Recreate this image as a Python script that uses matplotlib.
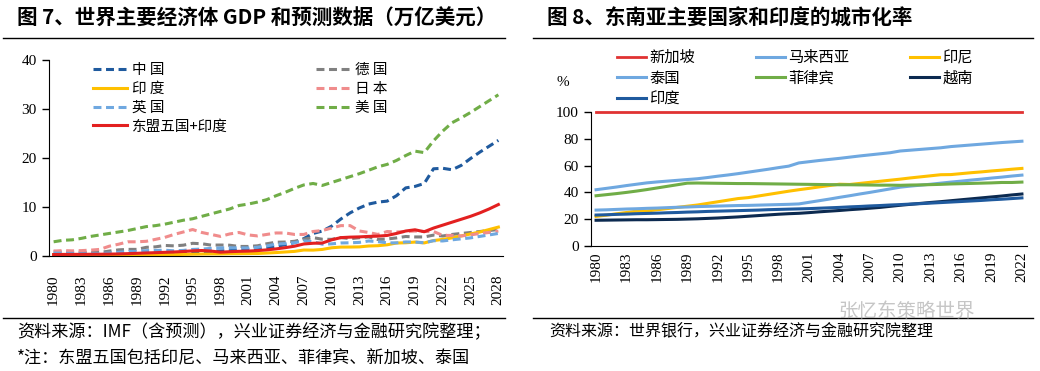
import matplotlib
matplotlib.use("Agg")
import matplotlib.pyplot as plt
import numpy as np

plt.rcParams['font.family'] = ['Noto Sans CJK SC', 'DejaVu Sans']

# ---- fig 7: GDP (万亿美元), 1980-2028
gdp_years = list(range(1980, 2029))
china = [0.30, 0.29, 0.28, 0.30, 0.31, 0.31, 0.30, 0.33, 0.41, 0.46,
         0.40, 0.41, 0.49, 0.62, 0.56, 0.74, 0.86, 0.96, 1.03, 1.09,
         1.21, 1.34, 1.47, 1.66, 1.96, 2.29, 2.75, 3.55, 4.59, 5.10,
         6.09, 7.55, 8.80, 9.80, 10.6, 11.0, 11.2, 12.3, 13.9, 14.2,
         14.8, 17.8, 17.9, 17.6, 18.5, 19.9, 21.2, 22.4, 23.6]
germany = [0.95, 0.80, 0.78, 0.77, 0.72, 0.73, 1.00, 1.25, 1.35, 1.35,
           1.77, 1.87, 2.15, 2.07, 2.21, 2.59, 2.50, 2.22, 2.24, 2.20,
           1.95, 1.95, 2.08, 2.50, 2.81, 2.85, 3.00, 3.43, 3.75, 3.42,
           3.40, 3.76, 3.54, 3.73, 3.89, 3.36, 3.47, 3.69, 3.98, 3.89,
           3.89, 4.26, 4.08, 4.40, 4.60, 4.80, 5.00, 5.20, 5.40]
india = [0.19, 0.20, 0.20, 0.22, 0.22, 0.23, 0.25, 0.28, 0.30, 0.30,
         0.32, 0.27, 0.29, 0.28, 0.33, 0.37, 0.40, 0.42, 0.42, 0.46,
         0.47, 0.49, 0.51, 0.60, 0.70, 0.82, 0.94, 1.22, 1.20, 1.34,
         1.68, 1.82, 1.83, 1.86, 2.04, 2.10, 2.29, 2.65, 2.70, 2.84,
         2.67, 3.15, 3.39, 3.70, 4.10, 4.50, 4.90, 5.40, 5.90]
japan = [1.00, 1.10, 1.05, 1.10, 1.20, 1.35, 2.00, 2.40, 2.90, 2.90,
         3.00, 3.40, 3.80, 4.40, 4.90, 5.40, 4.80, 4.40, 4.00, 4.50,
         4.80, 4.30, 4.10, 4.40, 4.70, 4.70, 4.40, 4.40, 5.00, 5.20,
         5.70, 6.20, 6.20, 5.10, 4.80, 4.40, 5.00, 4.90, 5.00, 5.10,
         5.00, 5.00, 4.20, 4.20, 4.10, 4.30, 4.60, 4.80, 5.10]
uk = [0.60, 0.56, 0.53, 0.50, 0.47, 0.50, 0.60, 0.75, 0.91, 0.93,
      1.09, 1.14, 1.18, 1.06, 1.14, 1.34, 1.41, 1.56, 1.65, 1.68,
      1.66, 1.64, 1.78, 2.06, 2.42, 2.54, 2.71, 3.09, 2.93, 2.41,
      2.48, 2.66, 2.70, 2.78, 3.06, 2.93, 2.69, 2.68, 2.87, 2.85,
      2.70, 3.12, 3.07, 3.30, 3.50, 3.70, 4.00, 4.30, 4.60]
usa = [2.9, 3.2, 3.3, 3.6, 4.0, 4.3, 4.6, 4.9, 5.2, 5.6,
       6.0, 6.2, 6.5, 6.9, 7.3, 7.6, 8.1, 8.6, 9.1, 9.6,
       10.3, 10.6, 11.0, 11.5, 12.3, 13.0, 13.8, 14.5, 14.8, 14.4,
       15.0, 15.6, 16.2, 16.8, 17.5, 18.2, 18.7, 19.5, 20.5, 21.4,
       21.1, 23.5, 25.5, 27.2, 28.2, 29.3, 30.5, 31.7, 32.9]
asean_india = [0.30, 0.32, 0.33, 0.34, 0.35, 0.36, 0.38, 0.42, 0.48, 0.55,
               0.62, 0.68, 0.75, 0.82, 0.92, 1.05, 1.12, 1.00, 0.78, 0.88,
               0.95, 1.00, 1.10, 1.25, 1.45, 1.70, 2.00, 2.45, 2.60, 2.65,
               3.30, 3.75, 3.85, 3.90, 4.00, 4.05, 4.20, 4.60, 5.10, 5.35,
               4.95, 5.70, 6.30, 6.90, 7.50, 8.10, 8.80, 9.60, 10.5]

# ---- fig 8: urbanization (%), 1980-2022
urb_years = list(range(1980, 2023))
singapore = [100.0] * 43
malaysia = [42.0, 43.0, 44.0, 45.1, 46.1, 47.1, 47.8, 48.4, 49.0, 49.6,
            50.2, 51.1, 52.1, 53.0, 54.0, 55.1, 56.2, 57.3, 58.5, 59.6,
            62.0, 62.9, 63.8, 64.6, 65.4, 66.3, 67.2, 68.0, 68.8, 69.6,
            70.9, 71.5, 72.1, 72.7, 73.3, 74.2, 74.8, 75.4, 76.0, 76.6,
            77.2, 77.7, 78.2]
indonesia = [22.1, 23.0, 24.0, 25.0, 26.0, 26.1, 27.0, 27.9, 28.8, 29.7,
             30.6, 31.8, 33.0, 34.2, 35.4, 36.1, 37.3, 38.5, 39.7, 40.9,
             42.0, 43.0, 44.1, 45.1, 46.1, 45.9, 46.7, 47.5, 48.3, 49.1,
             49.9, 50.8, 51.6, 52.4, 53.2, 53.3, 54.0, 54.7, 55.3, 56.0,
             56.6, 57.3, 57.9]
thailand = [26.8, 27.0, 27.3, 27.6, 27.8, 28.1, 28.3, 28.6, 28.9, 29.1,
            29.4, 29.6, 29.8, 30.0, 30.2, 30.3, 30.5, 30.7, 30.9, 31.1,
            31.4, 32.6, 33.8, 35.0, 36.3, 37.5, 38.8, 40.0, 41.3, 42.6,
            43.9, 44.7, 45.4, 46.1, 46.9, 47.7, 48.4, 49.2, 49.9, 50.7,
            51.4, 52.2, 52.9]
philippines = [37.5, 38.3, 39.1, 40.0, 41.0, 42.1, 43.3, 44.5, 45.7, 46.9,
               47.0, 46.9, 46.8, 46.7, 46.6, 46.6, 46.5, 46.4, 46.3, 46.2,
               46.1, 46.0, 45.9, 45.8, 45.7, 45.7, 45.6, 45.5, 45.4, 45.4,
               45.3, 45.5, 45.6, 45.8, 46.0, 46.3, 46.5, 46.7, 46.9, 47.1,
               47.4, 47.4, 47.7]
vietnam = [19.2, 19.3, 19.4, 19.5, 19.6, 19.6, 19.7, 19.8, 19.9, 20.1,
           20.3, 20.6, 20.9, 21.3, 21.7, 22.2, 22.7, 23.2, 23.7, 24.1,
           24.4, 24.9, 25.5, 26.0, 26.5, 27.1, 27.6, 28.2, 28.8, 29.6,
           30.4, 31.1, 31.8, 32.5, 33.1, 33.8, 34.5, 35.2, 35.9, 36.6,
           37.3, 38.1, 38.8]
india_urb = [23.1, 23.3, 23.6, 23.8, 24.1, 24.3, 24.5, 24.8, 25.0, 25.3,
             25.5, 25.8, 26.0, 26.2, 26.4, 26.6, 26.8, 27.1, 27.3, 27.5,
             27.7, 27.9, 28.2, 28.5, 28.8, 29.2, 29.5, 29.9, 30.2, 30.6,
             30.9, 31.3, 31.6, 32.0, 32.4, 32.8, 33.2, 33.6, 34.0, 34.5,
             34.9, 35.4, 35.9]

W, H = 1040, 371
fig = plt.figure(figsize=(W / 100, H / 100), dpi=100)

def fx(px):
    return px / W

def fy(py):
    return 1 - py / H

dash = (0, (2.6, 1.5))

# ================= left panel =================
ax1 = fig.add_axes([fx(49), fy(256), fx(503) - fx(49), fy(60) - fy(256)])
x1 = np.arange(len(gdp_years))
l_cn, = ax1.plot(x1, china, color='#1F5A9E', lw=2.2, ls=dash, label='中 国')
l_de, = ax1.plot(x1, germany, color='#808080', lw=2.2, ls=dash, label='德 国')
l_in, = ax1.plot(x1, india, color='#FFC000', lw=2.2, label='印 度')
l_jp, = ax1.plot(x1, japan, color='#F08C8C', lw=2.2, ls=dash, label='日 本')
l_uk, = ax1.plot(x1, uk, color='#6FA8E0', lw=2.2, ls=dash, label='英 国')
l_us, = ax1.plot(x1, usa, color='#70AD47', lw=2.2, ls=dash, label='美 国')
l_as, = ax1.plot(x1, asean_india, color='#E32020', lw=2.2, label='东盟五国+印度')

ax1.set_xlim(-0.5, len(gdp_years) - 0.5)
ax1.set_ylim(0, 40)
ax1.set_yticks([0, 10, 20, 30, 40])
ax1.set_xticks(x1[::3])
ax1.set_xticklabels([str(y) for y in gdp_years[::3]], rotation=90)
for s in ['top', 'right']:
    ax1.spines[s].set_visible(False)
ax1.tick_params(axis='y', length=5, width=1, pad=4)
ax1.tick_params(axis='x', length=0, pad=13)
for lab in ax1.get_xticklabels() + ax1.get_yticklabels():
    lab.set_fontfamily('Liberation Serif')
    lab.set_fontsize(11)

ax1.legend(handles=[l_cn, l_in, l_uk, l_as, l_de, l_jp, l_us], ncol=2,
           loc='upper left', bbox_to_anchor=(fx(93), fy(63)),
           bbox_transform=fig.transFigure, frameon=False, fontsize=10.5,
           handlelength=2.3, handletextpad=0.4, labelspacing=0.33,
           columnspacing=6.0, borderpad=0, borderaxespad=0)

# ================= right panel =================
ax2 = fig.add_axes([fx(591), fy(246), fx(1027) - fx(591), fy(112) - fy(246)])
x2 = np.arange(len(urb_years))
u_sg, = ax2.plot(x2, singapore, color='#E03232', lw=2.0, label='新加坡', clip_on=False)
u_my, = ax2.plot(x2, malaysia, color='#6FA8E0', lw=2.2, label='马来西亚')
u_id, = ax2.plot(x2, indonesia, color='#FFC000', lw=2.2, label='印尼')
u_th, = ax2.plot(x2, thailand, color='#6FA8E0', lw=2.2, label='泰国')
u_ph, = ax2.plot(x2, philippines, color='#70AD47', lw=2.2, label='菲律宾')
u_vn, = ax2.plot(x2, vietnam, color='#0C2A50', lw=2.2, label='越南')
u_in, = ax2.plot(x2, india_urb, color='#1F5A9E', lw=2.2, label='印度')

ax2.set_xlim(-0.5, len(urb_years) - 0.5)
ax2.set_ylim(0, 100)
ax2.set_yticks([0, 20, 40, 60, 80, 100])
ax2.set_xticks(x2[::3])
ax2.set_xticklabels([str(y) for y in urb_years[::3]], rotation=90)
for s in ['top', 'right']:
    ax2.spines[s].set_visible(False)
ax2.tick_params(axis='y', length=5, width=1, pad=4)
ax2.tick_params(axis='x', length=0, pad=4)
for lab in ax2.get_xticklabels() + ax2.get_yticklabels():
    lab.set_fontfamily('Liberation Serif')
    lab.set_fontsize(11)

ax2.legend(handles=[u_sg, u_th, u_in, u_my, u_ph, u_id, u_vn], ncol=3,
           loc='upper left', bbox_to_anchor=(fx(617), fy(49)),
           bbox_transform=fig.transFigure, frameon=False, fontsize=11,
           handlelength=1.9, handletextpad=0.2, labelspacing=0.25,
           columnspacing=4.0, borderpad=0, borderaxespad=0)
fig.text(fx(563), fy(82), '%', fontfamily='Liberation Serif', fontsize=11,
         ha='center', va='center')

# ================= titles / rules / notes =================
fig.text(fx(17), fy(18), '图 7、世界主要经济体 GDP 和预测数据（万亿美元）',
         fontsize=14.8, fontweight='bold', va='center')
fig.text(fx(547), fy(18), '图 8、东南亚主要国家和印度的城市化率',
         fontsize=14.8, fontweight='bold', va='center')
for xa, xb in [(3, 505), (533, 1033)]:
    fig.add_artist(plt.Line2D([fx(xa), fx(xb)], [fy(38), fy(38)], color='black', lw=1))
    fig.add_artist(plt.Line2D([fx(xa), fx(xb)], [fy(318), fy(318)], color='black', lw=1))

fig.text(fx(17), fy(332), '资料来源：IMF（含预测），兴业证券经济与金融研究院整理；',
         fontsize=12.3, va='center')
fig.text(fx(17), fy(358), '*注：东盟五国包括印尼、马来西亚、菲律宾、新加坡、泰国',
         fontsize=12.3, va='center')
fig.text(fx(549), fy(332), '资料来源：世界银行，兴业证券经济与金融研究院整理',
         fontsize=11.5, va='center')
# watermark
fig.text(fx(838), fy(311), '张忆东策略世界', fontsize=14, color='#A0A0A0',
         alpha=0.6, va='center')

fig.savefig('out.png', dpi=100)
